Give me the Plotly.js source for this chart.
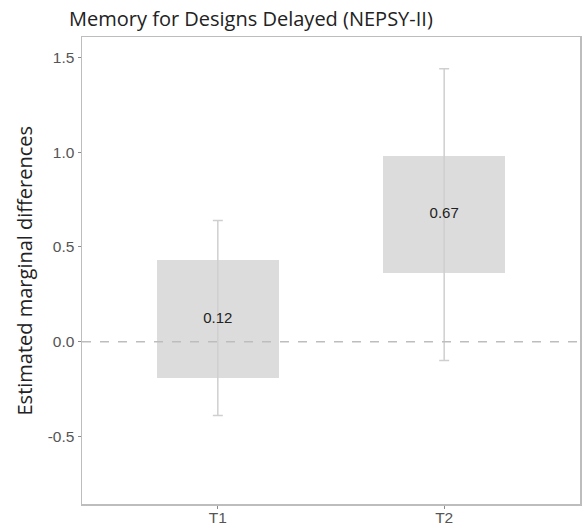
<!DOCTYPE html>
<html>
<head>
<meta charset="utf-8">
<script src="https://cdn.plot.ly/plotly-3.0.1.min.js"></script>
<style>
  html, body { margin: 0; padding: 0; background: #fff; }
  #chart { width: 587px; height: 528px; }
</style>
</head>
<body>
<div id="chart"></div>
<script>
// Time points
const timepoints = ["T1", "T2"];
// Estimated marginal differences
const estimates = [0.12, 0.67];
// Inner band (box) limits
const boxLower = [-0.19, 0.36];
const boxUpper = [0.43, 0.98];
// Whisker limits
const ciLower = [-0.39, -0.10];
const ciUpper = [0.64, 1.44];
// Axis ticks
const yTickVals = [-0.5, 0, 0.5, 1.0, 1.5];
const yTickText = ["-0.5", "0.0", "0.5", "1.0", "1.5"];

const xIdx = timepoints.map((_, i) => i);

const boxes = {
  type: "bar",
  x: xIdx,
  base: boxLower,
  y: boxUpper.map((u, i) => u - boxLower[i]),
  width: 0.54,
  marker: { color: "#dcdcdc", line: { width: 0 } },
  hoverinfo: "skip",
  showlegend: false
};

const whiskers = {
  type: "scatter",
  mode: "markers",
  x: xIdx,
  y: estimates,
  marker: { size: 1, color: "rgba(0,0,0,0)" },
  error_y: {
    type: "data",
    symmetric: false,
    array: ciUpper.map((u, i) => u - estimates[i]),
    arrayminus: ciLower.map((l, i) => estimates[i] - l),
    color: "#cfcfcf",
    thickness: 1.5,
    width: 5
  },
  hoverinfo: "skip",
  showlegend: false
};

const labels = {
  type: "scatter",
  mode: "text",
  x: xIdx,
  y: estimates,
  text: estimates.map(v => v.toFixed(2)),
  textposition: "middle center",
  textfont: { family: "Liberation Sans, Arial, sans-serif", size: 15, color: "#222" },
  hoverinfo: "skip",
  showlegend: false
};

const tickFont = { family: "Liberation Sans, Arial, sans-serif", size: 15.5, color: "#555" };
const titleFont = { family: "Open Sans, Lato, sans-serif", size: 20, color: "#222" };

const layout = {
  width: 587,
  height: 528,
  margin: { l: 82, r: 7, t: 37, b: 24 },
  paper_bgcolor: "#fff",
  plot_bgcolor: "#fff",
  title: {
    text: "Memory for Designs Delayed (NEPSY-II)",
    font: titleFont,
    x: 69 / 587,
    xanchor: "left",
    y: 1 - 19 / 528,
    yanchor: "middle"
  },
  xaxis: {
    range: [-0.6, 1.6],
    tickmode: "array",
    tickvals: xIdx,
    ticktext: timepoints,
    ticks: "outside",
    ticklen: 3,
    tickcolor: "#8a8a8a",
    tickfont: tickFont,
    ticklabelstandoff: -4,
    showgrid: false,
    zeroline: false,
    showline: true,
    linecolor: "#bdbdbd",
    linewidth: 1.5,
    mirror: true,
    fixedrange: true
  },
  yaxis: {
    range: [-0.857, 1.608],
    tickmode: "array",
    tickvals: yTickVals,
    ticktext: yTickText,
    ticks: "outside",
    ticklen: 3,
    tickcolor: "#8a8a8a",
    tickfont: tickFont,
    showgrid: false,
    zeroline: false,
    showline: true,
    linecolor: "#bdbdbd",
    linewidth: 1.5,
    mirror: true,
    fixedrange: true
  },
  annotations: [{
    text: "Estimated marginal differences",
    font: titleFont,
    textangle: -90,
    xref: "paper",
    yref: "paper",
    x: (24 - 82) / 498,
    y: 0.5,
    xanchor: "center",
    yanchor: "middle",
    showarrow: false
  }],
  shapes: [{
    type: "line",
    xref: "paper",
    yref: "y",
    x0: 0, x1: 1,
    y0: 0, y1: 0,
    line: { color: "#bdbdbd", width: 1.5, dash: "dash" },
    layer: "above"
  }],
  bargap: 0
};

Plotly.newPlot("chart", [boxes, whiskers, labels], layout, { displayModeBar: false, staticPlot: true });
</script>
</body>
</html>
